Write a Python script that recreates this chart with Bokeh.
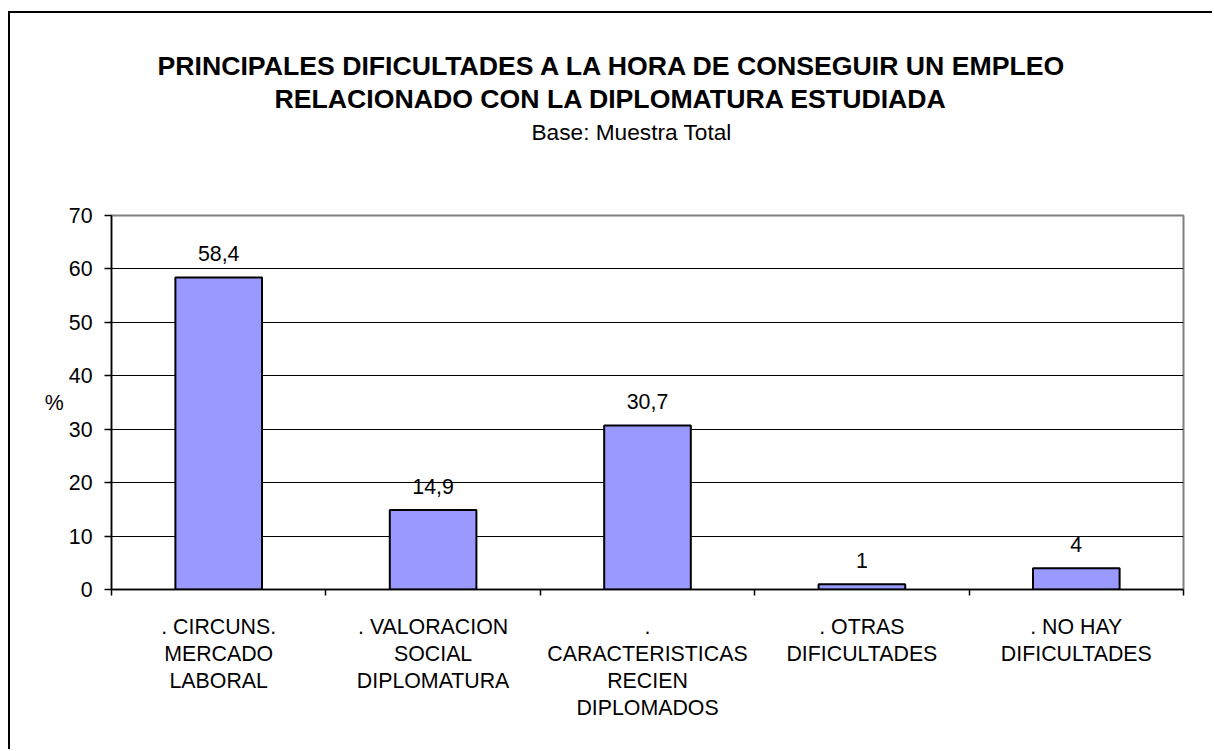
from bokeh.plotting import figure
from bokeh.models import Range1d, FixedTicker, LabelSet, ColumnDataSource, Title
from bokeh.core.properties import value
from bokeh.embed import file_html
from bokeh.resources import INLINE

# ---- data ----
categories = [
    ". CIRCUNS.\nMERCADO\nLABORAL",
    ". VALORACION\nSOCIAL\nDIPLOMATURA",
    ".\nCARACTERISTICAS\nRECIEN\nDIPLOMADOS",
    ". OTRAS\nDIFICULTADES",
    ". NO HAY\nDIFICULTADES",
]
values = [58.4, 14.9, 30.7, 1, 4]
y_ticks = [0, 10, 20, 30, 40, 50, 60, 70]
title_lines = [
    "PRINCIPALES DIFICULTADES A LA HORA DE CONSEGUIR UN EMPLEO",
    "RELACIONADO CON LA DIPLOMATURA ESTUDIADA",
]
subtitle = "Base: Muestra Total"
y_label = "%"

FONT = "Liberation Sans"
n = len(categories)
centers = [i + 0.5 for i in range(n)]
value_text = [f"{v:g}".replace(".", ",") for v in values]

p = figure(
    width=1204, height=738,
    x_range=Range1d(0, n), y_range=Range1d(0, 70),
    output_backend="svg", toolbar_location=None,
    min_border_left=101, min_border_right=31,
    min_border_top=202, min_border_bottom=162,
)
p.styles = {"border-left": "2px solid black", "border-top": "2px solid black",
            "margin-top": "11px", "margin-left": "8px"}

p.outline_line_color = "#808080"
p.outline_line_width = 2
p.background_fill_color = "white"
p.border_fill_color = "white"

p.xgrid.visible = False
p.ygrid.ticker = FixedTicker(ticks=y_ticks[1:-1])
p.ygrid.grid_line_color = "black"
p.ygrid.grid_line_width = 1

src = ColumnDataSource(dict(x=centers, top=values, label=value_text))
p.vbar(x="x", top="top", width=0.404, source=src,
       fill_color="#9999FF", line_color="black", line_width=2)

p.add_layout(LabelSet(x="x", y="top", text="label", source=src,
                      y_offset=16, text_align="center",
                      text_baseline="alphabetic",
                      text_font=value(FONT), text_font_size="16pt",
                      text_color="black"))

# x axis
xa = p.xaxis[0]
xa.ticker = FixedTicker(ticks=centers, minor_ticks=list(range(n + 1)))
xa.major_label_overrides = {c: lab for c, lab in zip(centers, categories)}
xa.major_tick_line_color = None
xa.minor_tick_line_color = "black"
xa.minor_tick_line_width = 1.5
xa.minor_tick_out = 6
xa.minor_tick_in = 0
xa.axis_line_color = "black"
xa.axis_line_width = 1.5
xa.major_label_standoff = 19
xa.major_label_text_font = FONT
xa.major_label_text_font_size = "16pt"
xa.major_label_text_color = "black"
xa.major_label_text_line_height = 1.13

# y axis
ya = p.yaxis[0]
ya.ticker = FixedTicker(ticks=y_ticks)
ya.minor_tick_line_color = None
ya.major_tick_out = 7
ya.major_tick_in = 0
ya.major_tick_line_color = "black"
ya.major_tick_line_width = 1.5
ya.axis_line_color = "black"
ya.axis_line_width = 1.5
ya.major_label_standoff = 12
ya.major_label_text_font = FONT
ya.major_label_text_font_size = "16pt"
ya.major_label_text_color = "black"
ya.axis_label = y_label
ya.axis_label_orientation = "horizontal"
ya.axis_label_standoff = 2
ya.axis_label_text_font = FONT
ya.axis_label_text_font_size = "16pt"
ya.axis_label_text_font_style = "normal"
ya.axis_label_text_color = "black"

# titles (added bottom-up: the first one added sits closest to the plot)
# blank (white, 1px) spacer between the plot and the subtitle
p.add_layout(Title(text=".", text_font_size="1px", text_color="white",
                   standoff=65), "above")
p.add_layout(Title(text=subtitle, align="left", offset=420,
                   text_font=FONT, text_font_size="17pt",
                   text_font_style="normal", text_color="black",
                   standoff=6), "above")
p.add_layout(Title(text=title_lines[1], align="left", offset=163,
                   text_font=FONT, text_font_size="20pt",
                   text_font_style="bold", text_color="black",
                   standoff=0), "above")
p.add_layout(Title(text=title_lines[0], align="left", offset=46,
                   text_font=FONT, text_font_size="20pt",
                   text_font_style="bold", text_color="black",
                   standoff=2), "above")

open("out.html", "w").write(file_html(p, INLINE))
